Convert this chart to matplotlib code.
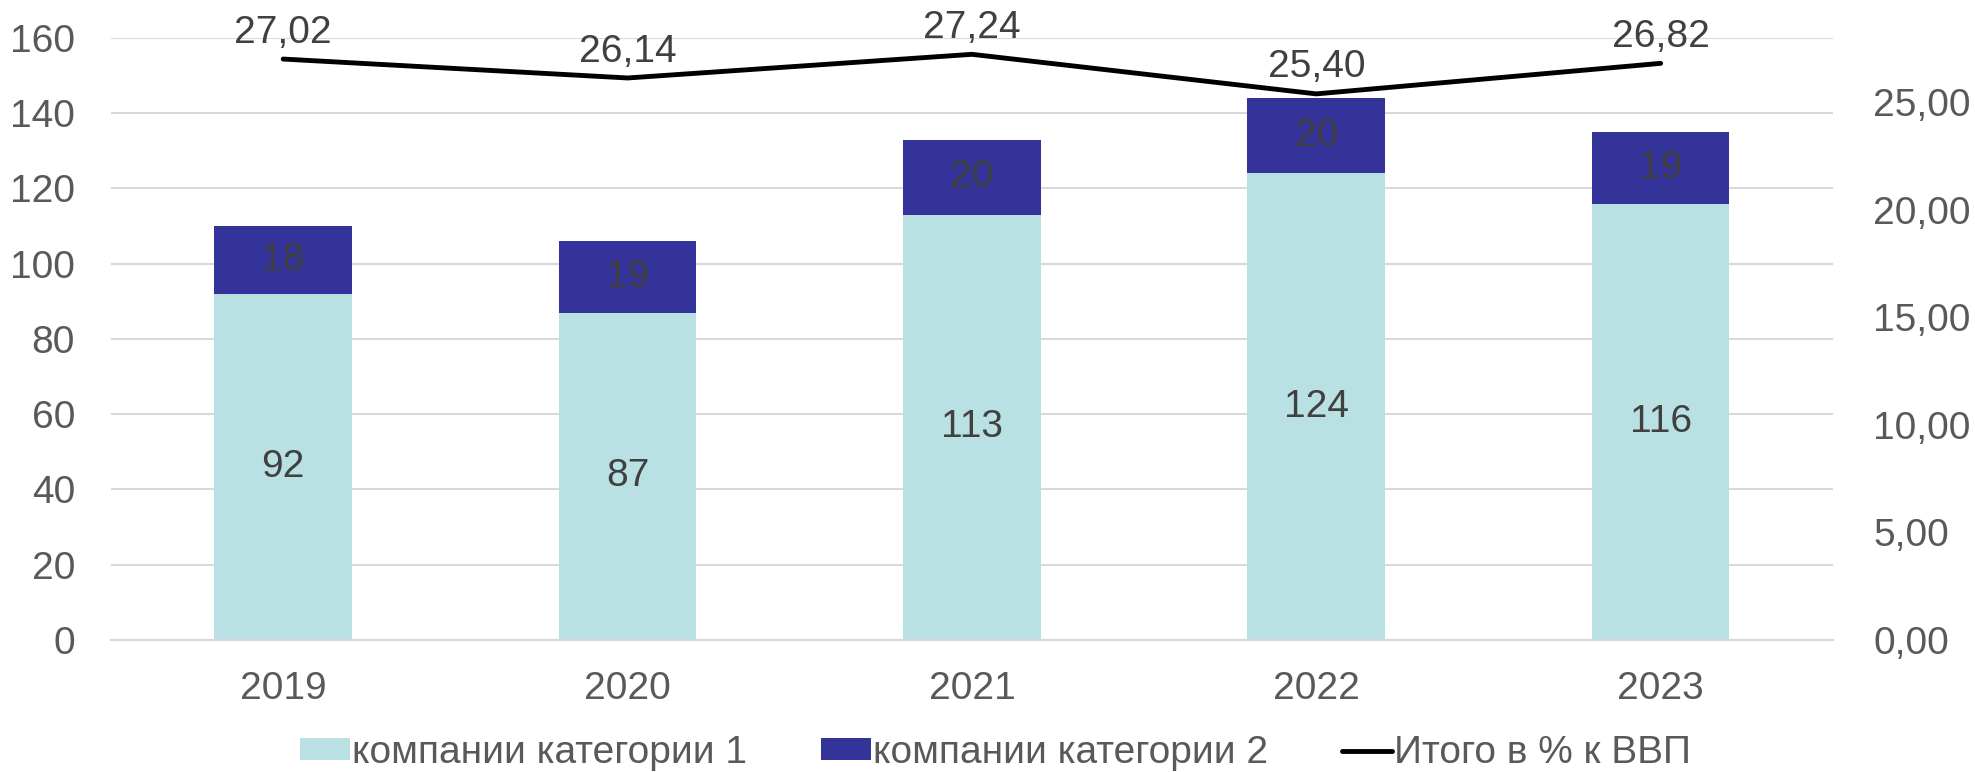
import numpy as np
import matplotlib
matplotlib.use("Agg")
import matplotlib.pyplot as plt

# data
years = ["2019", "2020", "2021", "2022", "2023"]
cat1 = [92, 87, 113, 124, 116]
cat2 = [18, 19, 20, 20, 19]
total_gdp = [27.02, 26.14, 27.24, 25.40, 26.82]
right_ticks = [0, 5, 10, 15, 20, 25]
left_ticks = [0, 20, 40, 60, 80, 100, 120, 140, 160]
labels = ["компании категории 1", "компании категории 2", "Итого в % к ВВП"]

# style
plt.rcParams['font.family'] = ['Liberation Sans', 'DejaVu Sans']
fs = 28
c_light = "#B9E0E3"
c_dark = "#333399"
c_tick = "#595959"
c_lab = "#404040"
c_grid = "#D9D9D9"

fig = plt.figure(figsize=(19.75, 7.72), dpi=100)
ax = fig.add_axes([0.0562, 0.171, 0.928 - 0.0562, 0.9508 - 0.171])
ax2 = ax.twinx()

x = np.arange(len(years))
w = 0.40
b1 = ax.bar(x, cat1, w, color=c_light, label=labels[0], zorder=2)
b2 = ax.bar(x, cat2, w, bottom=cat1, color=c_dark, label=labels[1], zorder=2)

# bar labels, centered in segments
for xi, v in zip(x, cat1):
    ax.text(xi, v / 2, str(v), ha='center', va='center', fontsize=fs, color=c_lab, zorder=3)
for xi, v, b in zip(x, cat2, cat1):
    ax.text(xi, b + v / 2, str(v), ha='center', va='center', fontsize=fs, color=c_lab, zorder=3)

ax.set_xlim(-0.5, len(years) - 0.5)
ax.set_ylim(0, 160)
ax.set_yticks(left_ticks)
ax.set_xticks(x)
ax.set_xticklabels(years)
ax.grid(axis='y', color=c_grid, linewidth=1.5, zorder=0)
ax.set_axisbelow(True)
ax.tick_params(axis='y', length=0, pad=26, labelsize=fs, labelcolor=c_tick)
ax.tick_params(axis='x', length=0, pad=22, labelsize=fs, labelcolor=c_tick)
for s in ax.spines.values():
    s.set_visible(False)
ax.spines['bottom'].set_visible(True)
ax.spines['bottom'].set_color(c_grid)
ax.spines['bottom'].set_linewidth(1.5)

# line on right axis
ln, = ax2.plot(x, total_gdp, color='black', linewidth=3.5, solid_capstyle='round', label=labels[2], zorder=4)
for xi, v in zip(x, total_gdp):
    ax2.annotate(f"{v:.2f}".replace('.', ','), (xi, v), xytext=(0, 19), textcoords='offset points',
                 ha='center', va='center', fontsize=fs, color=c_lab)
ax2.set_ylim(0, 28)
ax2.set_yticks(right_ticks)
ax2.set_yticklabels([f"{t:.2f}".replace('.', ',') for t in right_ticks])
ax2.tick_params(axis='y', length=0, pad=29, labelsize=fs, labelcolor=c_tick)
for s in ax2.spines.values():
    s.set_visible(False)

fig.legend(handles=[b1, b2, ln], labels=labels, loc='center', bbox_to_anchor=(0.504, 19 / 772),
           ncol=3, frameon=False, fontsize=fs, labelcolor=c_tick, handlelength=1.28,
           handleheight=0.5, handletextpad=0.06, columnspacing=1.9, borderpad=0)

fig.savefig("out.png", dpi=100)
